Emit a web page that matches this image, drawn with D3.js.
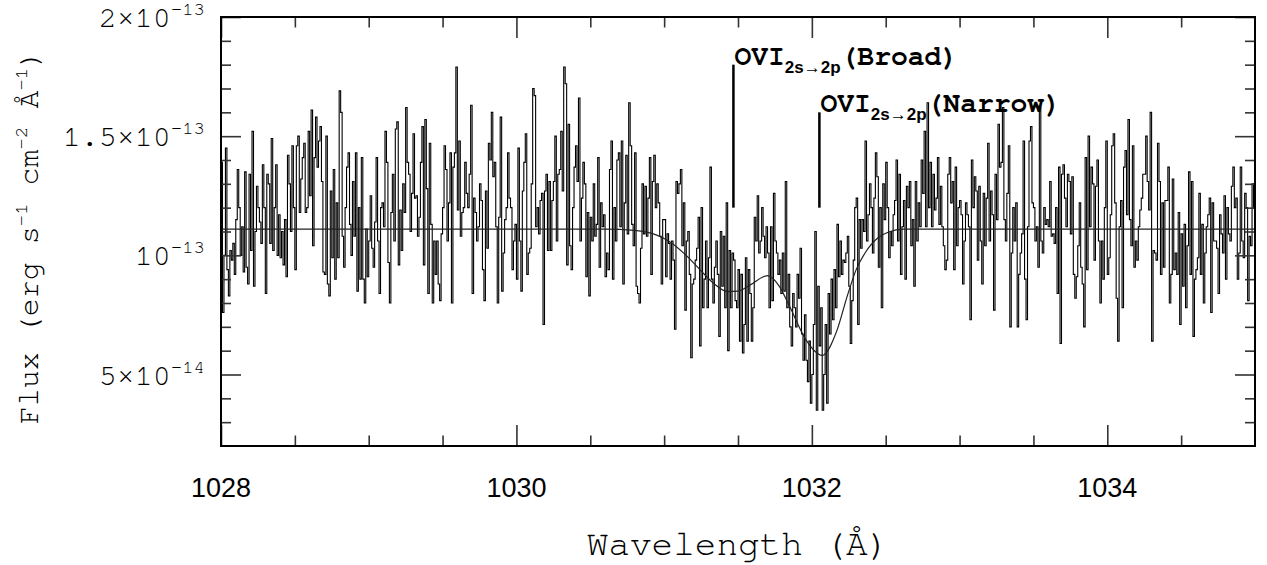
<!DOCTYPE html>
<html><head><meta charset="utf-8">
<script src="https://cdn.jsdelivr.net/npm/d3@7/dist/d3.min.js"></script>
<style>body{margin:0;background:#fff}</style>
</head><body>
<svg id="c" width="1267" height="565"></svg>
<script>
// Flux in units of 1e-13 erg s^-1 cm^-2 Å^-1, bins of 0.01 Å starting at 1028.00 Å
const flux1028_0 = [1.39,0.76,1.00,1.45,0.94,0.83,1.02,0.98,1.05,0.92,1.15,1.36,1.20,1.00,1.12,0.93,1.35,0.95,0.88,1.34,1.02,1.52,0.87,1.10,1.29,1.20,1.14,1.05,1.38,1.20,0.84,1.34,1.30,1.05,1.49,1.02,1.20,1.38,1.00,1.17,0.99,1.10,0.96,1.15,0.91,1.42,1.30,1.10,1.46,1.20,0.94,1.46,1.50,1.18,1.32,1.41,1.47,1.18,1.20,1.52,1.25,1.61,1.04,1.41,1.58,1.37,1.48,1.54,1.31,0.93];
const flux1028_7 = [0.92,1.50,0.88,0.83,1.27,0.99,1.36,0.90,1.22,0.99,1.69,1.60,1.08,0.95,1.20,1.37,1.43,1.13,1.00,1.31,1.08,1.43,0.85,1.20,0.90,1.41,0.90,0.80,1.11,0.91,1.06,1.25,1.03,0.95,1.14,1.41,1.06,0.84,1.20,1.22,1.12,1.52,1.39,0.97,0.80,1.18,1.34,1.06,1.53,1.56,0.96,1.19,1.02,1.30,1.18,1.62,1.39,1.34,1.10,1.26,1.51,1.24,1.25,1.08,1.16,1.39,1.54,0.96,1.57,1.28,0.84,1.47];
const flux1029_4 = [1.13,0.80,1.06,0.92,1.06,0.88,0.81,1.09,1.20,1.46,1.36,1.06,1.22,1.43,0.80,1.37,1.43,1.79,1.19,1.48,1.08,1.18,1.20,1.39,1.26,1.20,1.34,1.63,0.84,1.24,1.18,1.06,1.12,1.30,1.23,0.94,0.81,1.27,1.03,1.47,1.40,1.60,1.33,1.39,1.12,0.80,1.16,1.58,0.85,1.01,1.15,1.20,1.43,1.24,1.20,0.94,1.06,1.13,0.90,1.45,1.06,0.85,1.27,1.39,1.51,0.92,1.01,1.03,1.30,1.70];
const flux1030_1 = [1.67,1.12,1.20,1.09,1.23,1.26,0.71,1.27,1.34,1.02,1.31,1.02,1.23,1.31,1.50,1.06,1.34,1.36,1.52,1.27,1.79,1.72,0.96,1.55,1.04,0.94,1.20,1.37,1.46,1.31,1.66,1.06,1.24,1.39,1.30,0.91,1.18,0.83,1.16,1.06,1.30,1.08,1.13,1.41,0.95,1.22,1.12,1.17,0.91,1.01,0.94,1.36,1.48,0.90,1.20,1.06,1.40,1.43,1.12,1.48,0.88,1.22,1.42,1.09,1.64,1.46,1.13,1.04,1.43,0.87,0.84,0.80];
const flux1030_8 = [1.03,1.30,1.09,1.29,1.08,1.24,1.41,0.92,1.31,1.42,1.20,1.30,1.22,1.08,0.88,1.15,1.15,0.91,1.09,1.05,0.90,1.06,0.98,0.69,1.31,1.26,1.30,1.36,1.04,1.22,0.77,1.06,1.10,0.92,0.57,0.88,0.90,0.98,1.03,1.16,0.62,1.20,0.78,0.90,1.06,0.78,0.99,1.37,0.90,0.80,0.95,1.06,0.92,0.66,1.10,0.87,1.08,0.78,1.22,0.60,1.02,0.78,1.01,0.98,0.81,0.78,0.94,0.64,0.92,0.59];
const flux1031_5 = [0.71,0.99,0.64,0.94,0.84,0.64,0.78,1.16,1.06,1.25,1.01,1.06,1.20,1.08,0.99,1.12,1.01,0.78,1.12,0.81,1.26,1.06,1.01,0.92,0.98,0.84,1.01,0.85,1.31,0.78,0.92,0.70,0.62,0.84,0.78,0.70,0.92,0.82,1.03,0.67,0.56,0.75,0.56,0.47,0.64,0.38,0.50,0.71,1.10,0.35,0.87,0.62,0.78,0.35,0.50,0.71,0.38,0.84,0.67,0.90,0.73,0.94,0.78,1.13,0.91,1.06,0.92,0.98,0.97,1.01,1.08,0.87];
const flux1032_3 = [0.63,0.81,0.98,1.20,1.24,0.71,1.15,1.03,1.15,1.10,1.48,1.06,1.17,1.30,1.20,1.01,1.24,1.43,1.33,0.95,1.20,0.78,1.30,1.15,1.39,1.20,0.99,1.10,1.04,1.17,1.23,1.40,1.06,1.34,0.92,1.12,1.23,0.90,1.29,1.20,1.31,1.04,1.15,0.87,1.31,1.06,1.22,1.12,1.40,1.26,1.52,1.12,1.64,1.20,1.39,1.12,1.34,1.19,1.24,1.41,1.13,1.29,1.12,1.04,0.94,0.98,1.34,1.41,1.22,1.31];
const flux1033_0 = [0.94,1.37,1.04,1.20,1.23,1.17,0.88,1.06,1.22,1.17,1.12,0.73,1.40,1.20,1.33,1.27,0.98,1.29,1.06,0.88,1.26,1.04,1.24,1.47,1.06,1.27,1.17,0.77,1.34,1.15,1.55,1.37,1.39,1.62,1.15,1.06,1.26,1.46,0.70,1.01,1.20,1.06,1.22,0.70,0.92,1.01,1.09,1.48,0.90,0.73,1.12,1.48,1.54,1.22,1.20,1.06,1.12,0.95,1.62,1.06,1.01,1.20,1.13,1.15,1.12,1.31,1.08,1.09,1.05,1.20,0.84,1.37];
const flux1033_7 = [0.63,1.34,1.38,1.24,1.12,1.34,1.31,1.09,1.33,0.92,0.82,0.91,1.04,1.22,0.95,0.88,0.70,1.41,0.94,1.50,1.12,1.37,1.30,0.98,1.29,1.40,1.06,0.80,1.06,0.90,1.20,1.48,0.92,0.99,1.17,1.46,1.51,1.22,0.82,0.64,1.12,1.23,0.78,1.37,1.44,1.17,1.57,1.15,1.04,1.46,0.95,1.06,0.98,1.12,1.19,1.24,1.34,1.34,1.50,1.31,1.19,1.60,0.64,1.02];
const flux1034_3 = [1.01,0.98,1.47,1.31,0.92,1.22,0.95,1.23,1.23,1.37,0.80,0.92,1.32,0.94,1.01,0.92,1.18,0.71,1.09,0.87,1.13,0.78,1.04,1.35,0.92,1.31,0.66,0.90,0.94,0.99,1.26,0.92,1.13,0.80,1.01,1.12,1.17,1.24,0.76,1.22,1.06,1.06,1.03,0.84,1.17,1.09,1.01,1.25,0.90,1.20,1.09,1.06,1.29,1.37,1.20,1.24,0.90,1.01,1.37,1.06,0.99,1.26,1.20,0.81,1.08,1.04,1.30,1.20];
const binStart = 1028.0, binWidth = 0.01;

// Fitted model (continuum + broad and narrow O VI absorption)
const modelWave = [1028.00,1030.60,1030.80,1030.95,1031.03,1031.14,1031.25,1031.34,1031.43,1031.50,1031.58,1031.70,1031.78,1031.85,1031.96,1032.07,1032.17,1032.24,1032.30,1032.36,1032.45,1032.52,1032.62,1035.00];
const modelFlux = [1.11,1.11,1.105,1.085,1.06,1.005,0.935,0.88,0.848,0.85,0.875,0.915,0.87,0.785,0.645,0.58,0.685,0.83,0.94,1.01,1.075,1.098,1.11,1.11];

// Line markers
const markerNames = ["Broad","Narrow"];
const markerWave = [1031.469, 1032.051];
const markerBottom = [1.20, 1.20];
const markerTop = [1.80, 1.60];

// Axes
const xMajor = [1028,1030,1032,1034];
const xMinor = [1028.5,1029,1029.5,1030.5,1031,1031.5,1032.5,1033,1033.5,1034.5];
const yMajor = [0.5,1.0,1.5,2.0];
const yMajorLabel = [["5×10","−14"],["10","−13"],["1.5×10","−13"],["2×10","−13"]];
const yMinor = [0.3,0.4,0.6,0.7,0.8,0.9,1.1,1.2,1.3,1.4,1.6,1.7,1.8,1.9];

const fluxAll = [].concat(flux1028_0,flux1028_7,flux1029_4,flux1030_1,flux1030_8,flux1031_5,flux1032_3,flux1033_0,flux1033_7,flux1034_3);

const L=221, R=1255, T=17, B=446;
const svg = d3.select("#c");
svg.append("rect").attr("width",1267).attr("height",565).attr("fill","#fff");
const x = d3.scaleLinear().domain([1028,1035]).range([L,R]);
const y = d3.scaleLinear().domain([0.2,2.0]).range([B,T]);

svg.append("clipPath").attr("id","clip").append("rect").attr("x",L).attr("y",T).attr("width",R-L).attr("height",B-T);

const pts = fluxAll.map((v,i)=>[binStart+i*binWidth, v]);
pts.push([binStart+fluxAll.length*binWidth, fluxAll[fluxAll.length-1]]);
svg.append("path").attr("clip-path","url(#clip)")
  .attr("d", d3.line().x(d=>x(d[0])).y(d=>y(d[1])).curve(d3.curveStepAfter)(pts))
  .attr("fill","none").attr("stroke","#000").attr("stroke-width",1.1);

svg.append("path").attr("clip-path","url(#clip)")
  .attr("d", d3.line().x((d,i)=>x(modelWave[i])).y(d=>y(d)).curve(d3.curveMonotoneX)(modelFlux))
  .attr("fill","none").attr("stroke","#222").attr("stroke-width",1.2);

// ticks via d3 axes (inward)
function ax(gen, tx, ty){ const g = svg.append("g").attr("transform",`translate(${tx},${ty})`).call(gen); g.select(".domain").remove(); g.selectAll("line").attr("stroke","#333").attr("stroke-width",1.6); return g; }
ax(d3.axisBottom(x).tickValues(xMajor).tickSize(-21).tickFormat(""),0,B);
ax(d3.axisBottom(x).tickValues(xMinor).tickSize(-10.5).tickFormat(""),0,B);
ax(d3.axisTop(x).tickValues(xMajor).tickSize(-21).tickFormat(""),0,T);
ax(d3.axisTop(x).tickValues(xMinor).tickSize(-10.5).tickFormat(""),0,T);
ax(d3.axisLeft(y).tickValues(yMajor).tickSize(-20).tickFormat(""),L,0);
ax(d3.axisLeft(y).tickValues(yMinor).tickSize(-10).tickFormat(""),L,0);
ax(d3.axisRight(y).tickValues(yMajor).tickSize(-20).tickFormat(""),R,0);
ax(d3.axisRight(y).tickValues(yMinor).tickSize(-10).tickFormat(""),R,0);

svg.append("rect").attr("x",L).attr("y",T).attr("width",R-L).attr("height",B-T)
  .attr("fill","none").attr("stroke","#000").attr("stroke-width",2);

// x tick labels
svg.selectAll(".xl").data(xMajor).enter().append("text")
  .attr("x",d=>x(d)).attr("y",497).attr("text-anchor","middle")
  .attr("font-family","'Liberation Sans',Arial,sans-serif").attr("font-size",27).attr("fill","#000")
  .text(d=>d);

// y tick labels
const mono = "'Nimbus Mono PS','Nimbus Mono L','FreeMono','Courier 10 Pitch','Liberation Mono',monospace";
yMajor.forEach((v,i)=>{
  const t = svg.append("text").attr("x",205).attr("y",y(v)+10).attr("text-anchor","end")
    .attr("font-family",mono).attr("font-size",30).attr("fill","#000");
  t.append("tspan").text(yMajorLabel[i][0]);
  t.append("tspan").attr("dy",-12).attr("font-size",19).text(yMajorLabel[i][1]);
});

// axis titles
svg.append("text").attr("x",738).attr("y",555).attr("text-anchor","middle")
  .attr("font-family",mono).attr("font-size",36).attr("fill","#000").text("Wavelength (Å)");
const yt = svg.append("text").attr("transform","translate(38,237) rotate(-90)").attr("text-anchor","middle")
  .attr("font-family",mono).attr("font-size",30).attr("fill","#000");
yt.append("tspan").text("Flux (erg s");
yt.append("tspan").attr("dy",-11).attr("font-size",19).text("−1");
yt.append("tspan").attr("dy",11).text(" cm");
yt.append("tspan").attr("dy",-11).attr("font-size",19).text("−2");
yt.append("tspan").attr("dy",11).text(" Å");
yt.append("tspan").attr("dy",-11).attr("font-size",19).text("−1");
yt.append("tspan").attr("dy",11).text(")");

// markers
markerNames.forEach((n,i)=>{
  const xm = x(markerWave[i]);
  svg.append("line").attr("x1",xm).attr("x2",xm).attr("y1",y(markerBottom[i])).attr("y2",y(markerTop[i]))
    .attr("stroke","#000").attr("stroke-width",2.5);
  const t = svg.append("text").attr("x",xm+1).attr("y",y(markerTop[i])).attr("fill","#000")
    .attr("font-family",mono).attr("font-size",28).attr("font-weight","bold");
  t.append("tspan").text("OVI");
  t.append("tspan").attr("dy",8).attr("font-family","'Liberation Sans',Arial,sans-serif").attr("font-size",17).text("2s→2p");
  t.append("tspan").attr("dy",-8).text("("+n+")");
});
</script>
</body></html>
